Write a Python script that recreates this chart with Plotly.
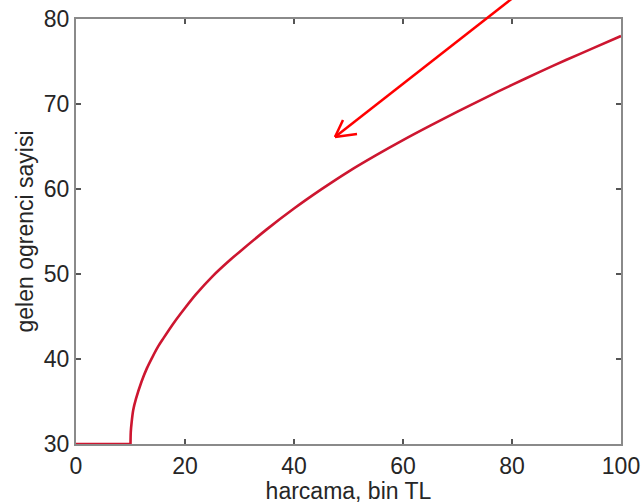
import plotly.graph_objects as go

# Spending (thousand TL) vs. number of students arriving
harcama = [0, 10, 10, 10.05, 10.2, 10.5, 11, 12, 13, 14, 15, 16, 18, 20, 22, 25, 28,
           30, 35, 40, 45, 50, 55, 60, 65, 70, 75, 80, 85, 90, 95, 100]
ogrenci = [30, 30, 30, 31.4, 32.5, 34.0, 35.3, 37.3, 38.9, 40.2, 41.4, 42.4, 44.3,
           46.0, 47.6, 49.7, 51.5, 52.6, 55.25, 57.7, 59.95, 62.05, 63.95, 65.75,
           67.45, 69.1, 70.7, 72.25, 73.75, 75.2, 76.6, 78.0]

x_ticks = [0, 20, 40, 60, 80, 100]
y_ticks = [30, 40, 50, 60, 70, 80]

FONT = "Liberation Sans, Arial, sans-serif"
AXIS_GREY = "#8a8a8a"
TEXT = "#262626"

fig = go.Figure()
fig.add_trace(go.Scatter(
    x=harcama, y=ogrenci, mode="lines",
    line=dict(color="rgb(205,22,48)", width=2.6, shape="spline", smoothing=0.8),
    hoverinfo="skip", showlegend=False,
))

axis_common = dict(
    showgrid=False, zeroline=False, automargin=False,
    showline=True, linecolor=AXIS_GREY, linewidth=2,
    mirror="ticks", ticks="inside", ticklen=5, tickwidth=1.5, tickcolor="#555",
    tickfont=dict(family=FONT, size=23, color=TEXT),
)

fig.update_xaxes(range=[0, 100], tickvals=x_ticks,
                 title=dict(text="harcama, bin TL", standoff=4,
                            font=dict(family=FONT, size=23, color=TEXT)),
                 **axis_common)
fig.update_yaxes(range=[30, 80], tickvals=y_ticks,
                 title=dict(text="gelen ogrenci sayisi", standoff=4,
                            font=dict(family=FONT, size=23, color=TEXT)),
                 **axis_common)

# Pointer arrow (shaft plus two open head strokes), placed in plot-area fractions
ARROW_RED = "#ff0000"
tip = (0.4752, 0.7224)
tail = (0.8198, 1.068)
wing_a = (0.4899, 0.7624)
wing_b = (0.5156, 0.7294)
for end in (tail, wing_a, wing_b):
    fig.add_shape(type="line", xref="paper", yref="paper",
                  x0=tip[0], y0=tip[1], x1=end[0], y1=end[1],
                  line=dict(color=ARROW_RED, width=2.5), layer="above")

fig.update_layout(
    width=644, height=504,
    margin=dict(l=76, r=23, t=19, b=60),
    paper_bgcolor="white", plot_bgcolor="white",
    font=dict(family=FONT, color=TEXT),
)

fig.write_html("out.html")
